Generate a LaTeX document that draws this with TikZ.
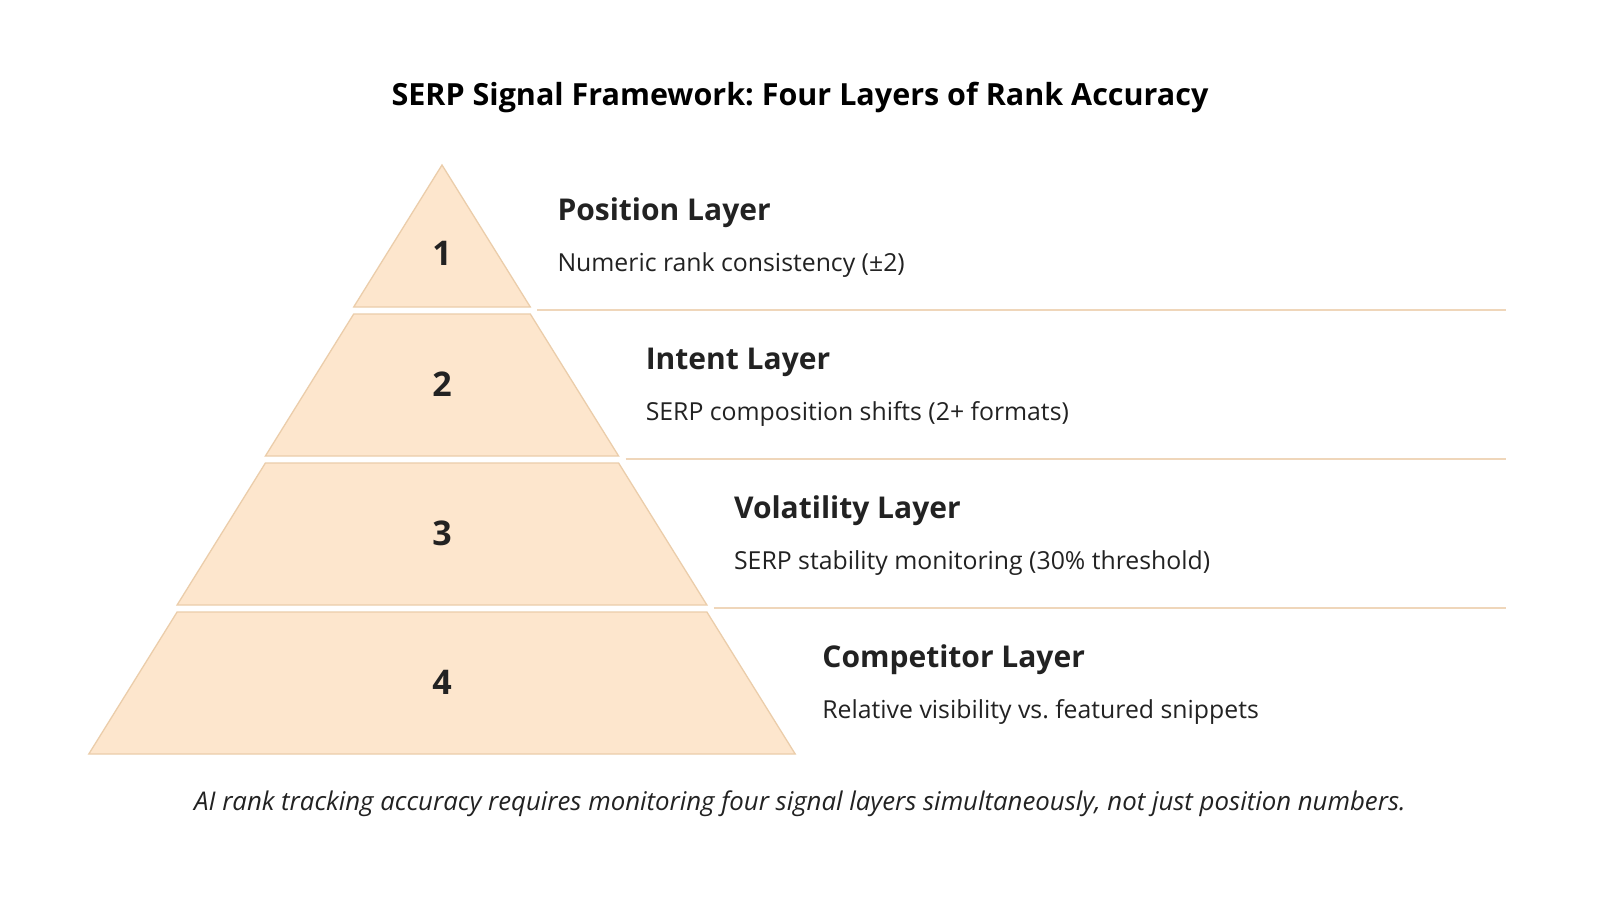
\documentclass[tikz,border=0pt]{standalone}
\usepackage{fontspec}
\setmainfont{Open Sans}
\definecolor{tierfill}{HTML}{FDE6CD}
\definecolor{tierline}{HTML}{EBCDAA}
\definecolor{sepline}{HTML}{EFD6BA}
\definecolor{ink}{HTML}{222222}
\frenchspacing
\begin{document}
\begin{tikzpicture}[x=1pt,y=-1pt,
  tier/.style={fill=tierfill,draw=tierline,line width=1.3pt,line join=miter},
  sepl/.style={draw=sepline,line width=1.3pt},
  num/.style={anchor=base,font=\fontsize{34}{40}\selectfont\bfseries,text=ink,inner sep=0pt},
  head/.style={anchor=base west,font=\fontsize{30}{36}\selectfont\bfseries,text=ink,inner sep=0pt},
  desc/.style={anchor=base west,font=\fontsize{24.8}{30}\selectfont,text=ink,inner sep=0pt},
  titl/.style={anchor=base,font=\fontsize{30.5}{36}\selectfont\bfseries,text=black,inner sep=0pt},
  capt/.style={anchor=base,font=\fontsize{25.8}{31}\selectfont\itshape,text=ink,inner sep=0pt}]
\useasboundingbox[fill=white] (0,0) rectangle (1600,900);
\def\cx{442}
\def\dw{88.3}
\def\th{142}
% tiers
\foreach \i/\lbl/\hd/\ds in {0/1/Position Layer/{Numeric rank consistency (±2)},
  1/2/Intent Layer/{SERP composition shifts (2+ formats)},
  2/3/Volatility Layer/{SERP stability monitoring (30\% threshold)},
  3/4/Competitor Layer/{Relative visibility vs. featured snippets}}{
  \pgfmathsetmacro{\top}{165+149*\i}
  \pgfmathsetmacro{\bot}{\top+\th}
  \pgfmathsetmacro{\tw}{\dw*\i}
  \pgfmathsetmacro{\bw}{\dw*(\i+1)}
  \draw[tier] (\cx-\tw,\top) -- (\cx+\tw,\top) -- (\cx+\bw,\bot) -- (\cx-\bw,\bot) -- cycle;
  \pgfmathsetmacro{\ny}{ifthenelse(\i==0,\top+100,\top+82)}
  \node[num] (n\lbl) at (\cx,\ny) {\lbl};
  \pgfmathsetmacro{\hx}{\cx+\bw+27}
  \node[head] (h\lbl) at (\hx,\top+55) {\hd};
  \node[desc] (d\lbl) at (\hx,\top+106) {\ds};
  \ifnum\i<3
    \pgfmathsetmacro{\sy}{\bot+3}
    \pgfmathsetmacro{\sx}{\cx+\bw+7}
    \draw[sepl] (\sx,\sy) -- (1506,\sy);
  \fi
}
\node[titl] (title) at (800,105) {SERP Signal Framework: Four Layers of Rank Accuracy};
\node[capt] (caption) at (800,810) {AI rank tracking accuracy requires monitoring four signal layers simultaneously, not just position numbers.};
\end{tikzpicture}
\end{document}
